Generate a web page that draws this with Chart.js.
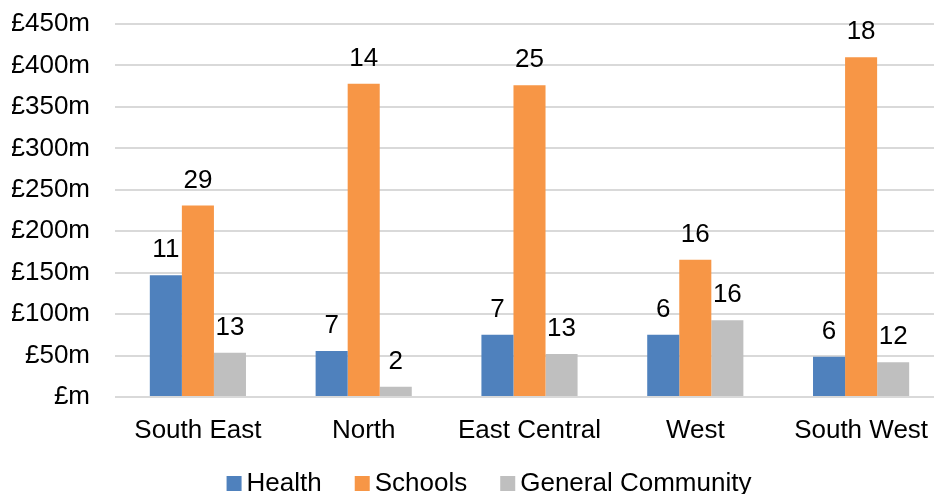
<!DOCTYPE html>
<html>
<head>
<meta charset="utf-8">
<script src="https://cdn.jsdelivr.net/npm/chart.js@4/dist/chart.umd.min.js"></script>
<style>
  html, body { margin: 0; padding: 0; background: #fff; overflow: hidden; }
  #wrap { position: absolute; left: 0; top: 0; width: 950px; height: 494px; }
</style>
</head>
<body>
<div id="wrap"><canvas id="chart" width="950" height="494"></canvas></div>
<script>
// regions along the x axis
const regions = ['South East', 'North', 'East Central', 'West', 'South West'];

// value in £m
const health = [147, 55.5, 75, 75, 48.6];
const schools = [231, 378, 376, 165.6, 410];
const community = [53.5, 12.4, 52, 92.5, 42];

// number of projects shown above each bar
const healthCount = [11, 7, 7, 6, 6];
const schoolsCount = [29, 14, 25, 16, 18];
const communityCount = [13, 2, 13, 16, 12];

const yTicks = [0, 50, 100, 150, 200, 250, 300, 350, 400, 450];

const FONT = 'Arial, "Liberation Sans", sans-serif';
const counts = [healthCount, schoolsCount, communityCount];

// count labels above bars
const countLabels = {
  id: 'countLabels',
  afterDatasetsDraw(chart) {
    const ctx = chart.ctx;
    ctx.save();
    ctx.font = '26px ' + FONT;
    ctx.fillStyle = '#000';
    ctx.textAlign = 'center';
    ctx.textBaseline = 'alphabetic';
    chart.data.datasets.forEach((ds, i) => {
      chart.getDatasetMeta(i).data.forEach((bar, j) => {
        ctx.fillText(String(counts[i][j]), bar.x, bar.y - 18);
      });
    });
    ctx.restore();
  }
};

// legend drawn like the Excel one (small square, tight gap)
const bottomLegend = {
  id: 'bottomLegend',
  afterDraw(chart) {
    const ctx = chart.ctx;
    ctx.save();
    ctx.font = '26px ' + FONT;
    ctx.textBaseline = 'alphabetic';
    const box = 15, gap = 5, spacing = 33;
    const items = chart.data.datasets.map(ds => ({
      text: ds.label, color: ds.backgroundColor, w: ctx.measureText(ds.label).width
    }));
    let total = items.reduce((s, it) => s + box + gap + it.w, 0) + spacing * (items.length - 1);
    let x = 489 - total / 2;
    const base = 491;
    items.forEach(it => {
      ctx.fillStyle = it.color;
      ctx.fillRect(x, base - box, box, box);
      x += box + gap;
      ctx.fillStyle = '#000';
      ctx.textAlign = 'left';
      ctx.fillText(it.text, x, base);
      x += it.w + spacing;
    });
    ctx.restore();
  }
};

new Chart(document.getElementById('chart'), {
  type: 'bar',
  data: {
    labels: regions,
    datasets: [
      { label: 'Health', data: health, backgroundColor: '#4F81BD' },
      { label: 'Schools', data: schools, backgroundColor: '#F79646' },
      { label: 'General Community', data: community, backgroundColor: '#BFBFBF' }
    ]
  },
  options: {
    responsive: false,
    animation: false,
    layout: { padding: { left: 12, right: 6, top: 24, bottom: 0 } },
    datasets: { bar: { barPercentage: 1, categoryPercentage: 0.58 } },
    plugins: { legend: { display: false }, tooltip: { enabled: false } },
    scales: {
      x: {
        grid: { display: false, drawTicks: false },
        border: { display: false },
        ticks: { color: '#000', font: { family: FONT, size: 26 }, padding: 18 },
        afterFit(axis) { axis.height = 97; axis.paddingLeft = 0; axis.paddingRight = 0; }
      },
      y: {
        min: 0, max: 450,
        afterBuildTicks(axis) { axis.ticks = yTicks.map(v => ({ value: v })); },
        grid: { color: '#d9d9d9', lineWidth: 2, drawTicks: false },
        border: { display: false },
        ticks: {
          color: '#000', font: { family: FONT, size: 26 }, padding: 25,
          callback: v => v === 0 ? '£m' : '£' + v + 'm'
        },
        afterFit(axis) { axis.width = 103; axis.paddingTop = 0; axis.paddingBottom = 0; }
      }
    }
  },
  plugins: [countLabels, bottomLegend]
});
</script>
</body>
</html>
